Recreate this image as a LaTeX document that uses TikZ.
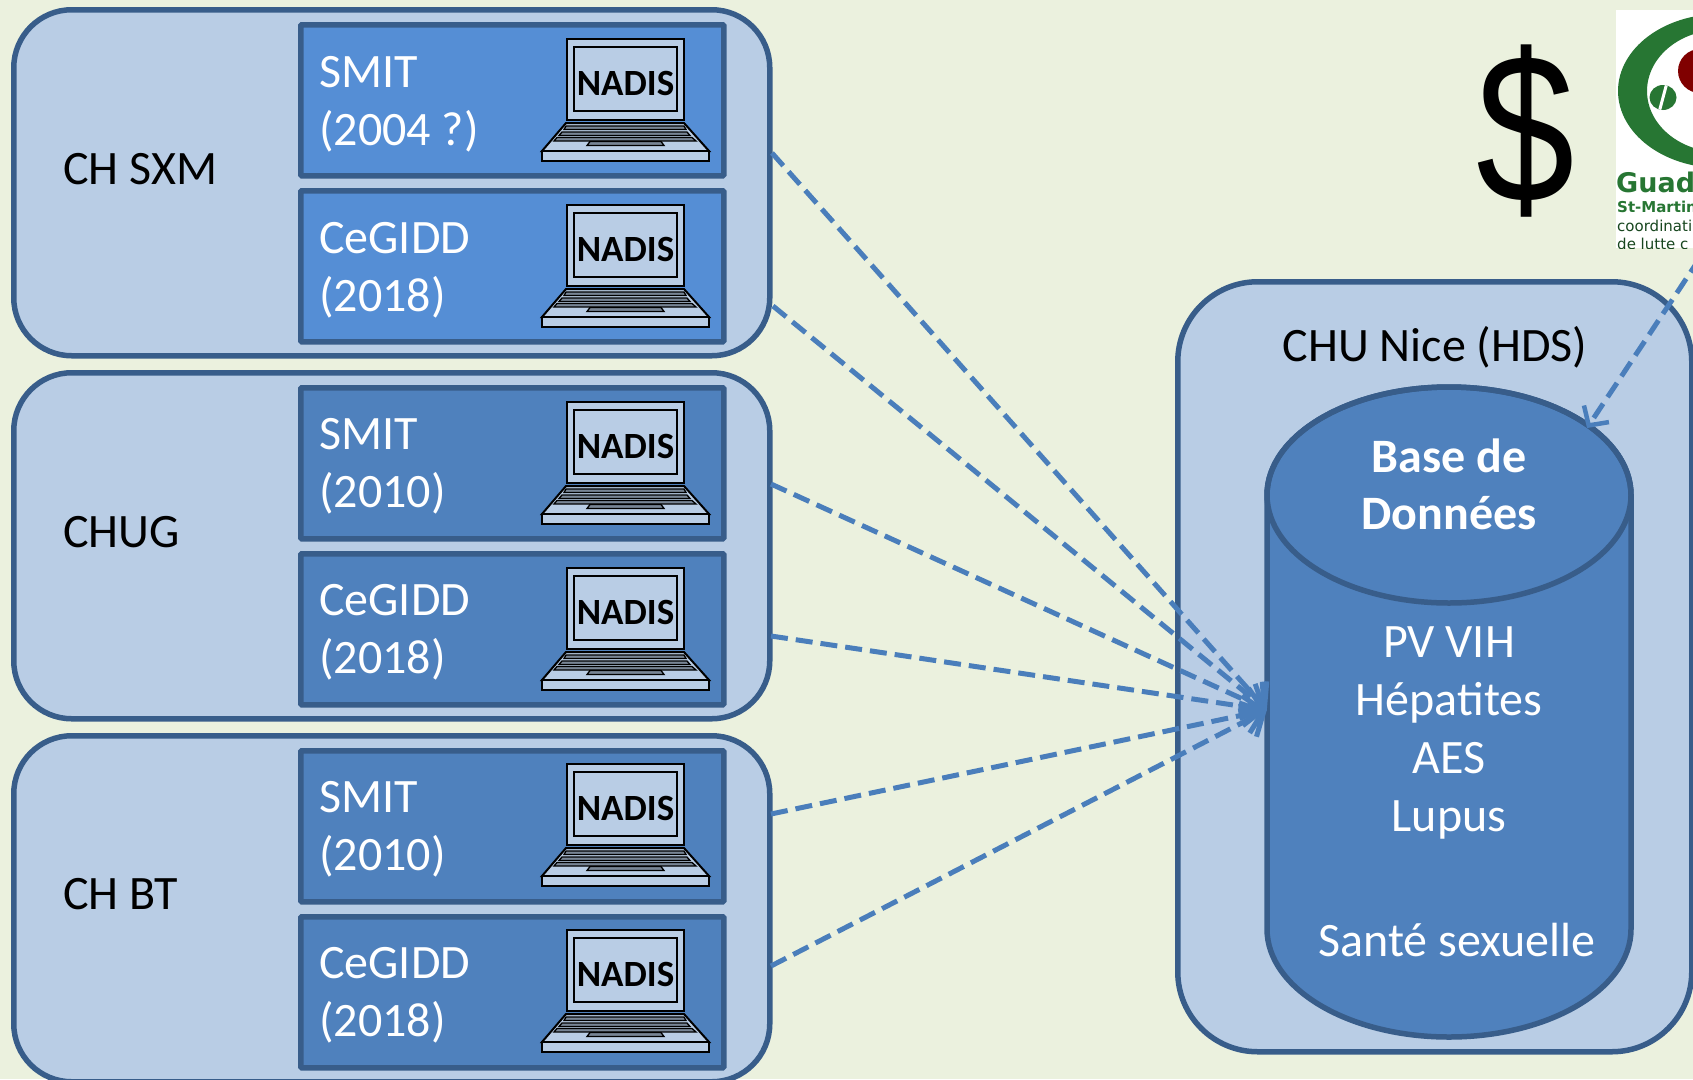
\documentclass[tikz,border=0pt]{standalone}
\usepackage{fontspec}
\setmainfont{Carlito}
\newfontfamily\arialfont{Liberation Sans}
\newfontfamily\logofont{DejaVu Sans}
\usetikzlibrary{arrows.meta,calc}
\definecolor{bgc}{HTML}{EBF1DE}
\definecolor{grpc}{HTML}{B9CDE5}
\definecolor{edgec}{HTML}{385D8A}
\definecolor{bluea}{HTML}{558ED5}
\definecolor{blueb}{HTML}{4F81BD}
\definecolor{arrc}{HTML}{4A7EBB}
\definecolor{logog}{HTML}{2E8B3C}
\tikzset{
  grp/.style={draw=edgec,line width=5.5pt,fill=grpc,rounded corners=58pt,minimum width=756pt,minimum height=346pt,anchor=north west,inner sep=0pt},
  site/.style={draw=edgec,line width=5.5pt,fill=#1,rounded corners=1pt,minimum width=423pt,minimum height=151pt,anchor=north west,inner sep=0pt},
  wlab/.style={text=white,font=\fontsize{48}{58}\selectfont,align=left,anchor=west,inner sep=0pt},
  blab/.style={text=black,font=\fontsize{48}{58}\selectfont,anchor=west,inner sep=0pt},
  dblab/.style={text=white,font=\fontsize{48}{58}\selectfont,align=center,inner sep=0pt},
  flow/.style={draw=arrc,line width=5pt,dash pattern=on 17pt off 8pt,-{Straight Barb[length=18pt,width=38pt,line width=5pt]}},
  lapline/.style={draw=black,line width=2pt,fill=grpc,line join=miter},
  lapkey/.style={draw=black,line width=1.3pt,fill=black!35!grpc},
}
\newcommand{\laptop}[3]{%
  \begin{scope}[shift={(#2,#3)}]
    \draw[lapline] (0,0) rectangle (117,81);
    \draw[lapline] (7,8) rectangle (110,72);
    \draw[lapline] (-1,84) -- (117,84) -- (142,112) -- (-25,112) -- cycle;
    \draw[lapline] (-25,112) rectangle (142,122);
    \draw[lapkey] (-1,87) -- (117,87) -- (119,90.5) -- (-3,90.5) -- cycle;
    \draw[lapkey] (-5,93) -- (120,93) -- (123,96.5) -- (-8,96.5) -- cycle;
    \draw[lapkey] (-10,98.5) -- (125,98.5) -- (129,102) -- (-13,102) -- cycle;
    \draw[lapkey] (23,102.5) -- (94,102.5) -- (97,106.5) -- (20,106.5) -- cycle;
    \node[text=black,font=\fontsize{37}{37}\selectfont\bfseries,inner sep=0pt] (#1) at (58.5,44) {NADIS};
  \end{scope}}
\begin{document}
\begin{tikzpicture}[x=1pt,y=-1pt]
\useasboundingbox (0,0) rectangle (1693,1079);
\clip (0,0) rectangle (1693,1079);
\fill[bgc] (0,0) rectangle (1693,1079);
% groups
\node[grp] (g1) at (11,7) {};
\node[grp] (g2) at (11,370) {};
\node[grp] (g3) at (11,733) {};
\node[blab] (g1t) at (63,169) {CH SXM};
\node[blab] (g2t) at (63,532) {CHUG};
\node[blab] (g3t) at (63,894) {CH BT};
% sites
\node[site=bluea] (s1) at (298,22) {};
\node[site=bluea] (s2) at (298,188) {};
\node[site=blueb] (s3) at (298,385) {};
\node[site=blueb] (s4) at (298,551) {};
\node[site=blueb] (s5) at (298,748) {};
\node[site=blueb] (s6) at (298,914) {};
\node[wlab] (t1) at (319,104) {SMIT\\(2004 ?)};
\node[wlab] (t2) at (319,270) {CeGIDD\\(2018)};
\node[wlab] (t3) at (319,466) {SMIT\\(2010)};
\node[wlab] (t4) at (319,632) {CeGIDD\\(2018)};
\node[wlab] (t5) at (319,829) {SMIT\\(2010)};
\node[wlab] (t6) at (319,995) {CeGIDD\\(2018)};
\laptop{n1}{567}{39}
\laptop{n2}{567}{205}
\laptop{n3}{567}{402}
\laptop{n4}{567}{568}
\laptop{n5}{567}{764}
\laptop{n6}{567}{930}
% CHU box
\node[draw=edgec,line width=5.5pt,fill=grpc,rounded corners=80pt,minimum width=514pt,minimum height=770pt,anchor=north west,inner sep=0pt] (chu) at (1175,279) {};
\node[text=black,font=\fontsize{48}{58}\selectfont,inner sep=0pt] (chut) at (1435,347) {CHU Nice (HDS)};
% database
\path[draw=edgec,line width=5.5pt,fill=blueb] (1267,495) -- (1267,929) arc[start angle=180,end angle=360,x radius=182,y radius=-108] -- (1631,495) arc[start angle=0,end angle=180,x radius=182,y radius=-108] -- cycle;
\draw[edgec,line width=5.5pt] (1449,495) ellipse[x radius=182,y radius=108];
\node[inner sep=0pt,minimum width=364pt,minimum height=650pt] (db) at (1449,712) {};
\node[dblab,font=\fontsize{48}{57}\selectfont\bfseries] (dbt) at (1449,484) {Base de\\Données};
\node[dblab] (dbl) at (1449,733) {PV VIH\\Hépatites\\AES\\Lupus};
\node[dblab] (dbs) at (1457,940) {Santé sexuelle};
% dollar
\node[text=black,font=\fontsize{213}{213}\selectfont\arialfont,inner sep=0pt] (dollar) at (1526,131) {\scalebox{.83}[1]{\$}};
% logo
\begin{scope}
  \clip (1616,10) rectangle (1693,248);
  \fill[white] (1616,10) rectangle (1693,248);
  \fill[logog!85!black,even odd rule] (1720,91) ellipse[x radius=102,y radius=77] (1720,91) ellipse[x radius=73,y radius=61];
  \fill[logog!85!black] (1663,97.5) ellipse[x radius=13.5,y radius=12.5];
  \fill[white,rotate around={-15:(1663,97.5)}] (1661.5,85) rectangle (1664.5,110);
  \fill[red!50!black] (1700,71) circle[radius=22];
  \node[anchor=west,inner sep=0pt,text=logog!85!black,font=\fontsize{27}{27}\selectfont\logofont\bfseries] (lg1) at (1616,182) {Guad};
  \node[anchor=west,inner sep=0pt,text=logog!85!black,font=\fontsize{15}{15}\selectfont\logofont\bfseries] (lg2) at (1617,207) {St-Martin};
  \node[anchor=west,inner sep=0pt,text=black!50!logog,font=\fontsize{15}{15}\selectfont\logofont] (lg3) at (1617,226) {coordinati};
  \node[anchor=west,inner sep=0pt,text=black!50!logog,font=\fontsize{15}{15}\selectfont\logofont] (lg4) at (1617,244) {de lutte c};
\end{scope}
% connector ends
\coordinate (a1) at (772,153);
\coordinate (a2) at (773,306);
\coordinate (a3) at (771,484);
\coordinate (a4) at (771,636);
\coordinate (a5) at (771,814);
\coordinate (a6) at (771,966);
\coordinate (hub) at ($(db.west)+(0,-2)$);
\coordinate (logofoot) at (1700,258);
\coordinate (dbtop) at (1587,428);
\foreach \p in {a1,a2,a3,a4,a5,a6} \draw[flow] (\p) -- (hub);
\draw[flow,-{Straight Barb[length=14pt,width=30pt,line width=4.5pt]}] (logofoot) -- (dbtop);
\end{tikzpicture}
\end{document}
